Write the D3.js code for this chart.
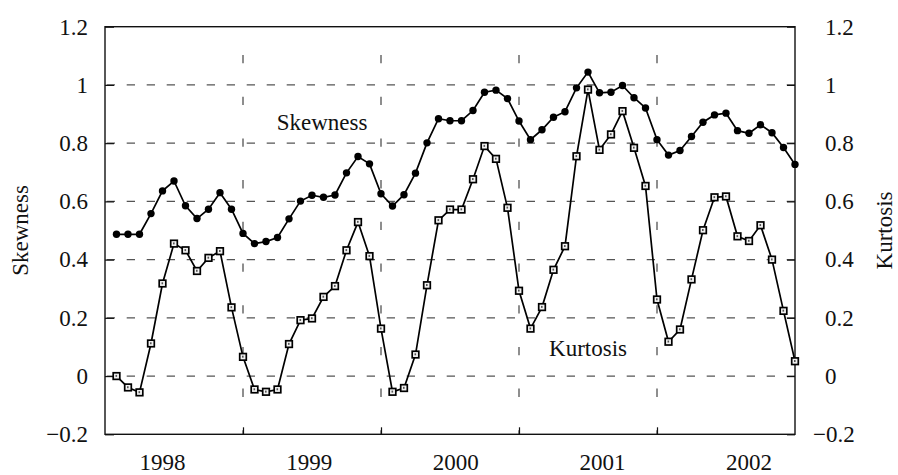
<!DOCTYPE html>
<html>
<head>
<meta charset="utf-8">
<script src="https://cdn.jsdelivr.net/npm/d3@7"></script>
<style>
  body { margin: 0; background: #fff; }
  svg { display: block; }
  text { font-family: "Liberation Serif", "Times New Roman", serif; fill: #111; }
</style>
</head>
<body>
<script>
// monthly values, Jan 1998 .. Dec 2002
var skewness = [
  0.487, 0.487, 0.487, 0.558, 0.636, 0.670, 0.585, 0.541, 0.573, 0.630, 0.573, 0.490,
  0.455, 0.462, 0.476, 0.540, 0.601, 0.621, 0.614, 0.622, 0.698, 0.754, 0.729, 0.626,
  0.584, 0.623, 0.697, 0.801, 0.884, 0.877, 0.877, 0.912, 0.975, 0.982, 0.953, 0.876,
  0.812, 0.846, 0.889, 0.908, 0.990, 1.044, 0.973, 0.975, 0.998, 0.956, 0.921, 0.812,
  0.759, 0.775, 0.823, 0.872, 0.897, 0.903, 0.843, 0.834, 0.863, 0.836, 0.785, 0.727
];
var kurtosis = [
  0.000, -0.039, -0.056, 0.112, 0.318, 0.455, 0.432, 0.361, 0.406, 0.429, 0.236, 0.066,
  -0.046, -0.054, -0.046, 0.110, 0.192, 0.198, 0.272, 0.309, 0.432, 0.529, 0.412, 0.163,
  -0.054, -0.041, 0.074, 0.312, 0.535, 0.572, 0.572, 0.676, 0.790, 0.746, 0.578, 0.293,
  0.163, 0.237, 0.365, 0.446, 0.755, 0.984, 0.777, 0.830, 0.910, 0.784, 0.653, 0.263,
  0.118, 0.160, 0.332, 0.501, 0.614, 0.617, 0.480, 0.464, 0.518, 0.400, 0.224, 0.051
];
var years = ["1998", "1999", "2000", "2001", "2002"];
var yTicks = [-0.2, 0, 0.2, 0.4, 0.6, 0.8, 1, 1.2];
var gridValues = [0, 0.2, 0.4, 0.6, 0.8, 1];

var width = 898, height = 475;
var plotLeft = 105, plotRight = 795, plotTop = 26.7, plotBottom = 434.3;

var svg = d3.select('body').append('svg')
  .attr('width', width)
  .attr('height', height);

// one month per step, x domain padded by one month on the left
var x = d3.scaleLinear().domain([-1, skewness.length - 1]).range([plotLeft, plotRight]);
var y = d3.scaleLinear().domain([-0.2, 1.2]).range([plotBottom, plotTop]);

var yearEnds = years.slice(0, -1).map((yr, k) => 12 * k + 11);
// year labels are spread evenly, a bit wider than the year spans
var labelPos = d3.scaleLinear().domain([0, years.length - 1]).range([x(4), x(55)]);

// horizontal dashed grid
svg.append('g').selectAll('line')
  .data(gridValues)
  .join('line')
  .attr('x1', plotLeft).attr('x2', plotRight)
  .attr('y1', d => y(d)).attr('y2', d => y(d))
  .attr('stroke', '#555')
  .attr('stroke-width', 1.2)
  .attr('stroke-dasharray', '8.3 11.7')
  .attr('stroke-dashoffset', -1.7);

// vertical dashed year separators
svg.append('g').selectAll('line')
  .data(yearEnds)
  .join('line')
  .attr('x1', d => x(d)).attr('x2', d => x(d))
  .attr('y1', plotTop).attr('y2', plotBottom)
  .attr('stroke', '#444')
  .attr('stroke-width', 1.2)
  .attr('stroke-dasharray', '8.3 33.4')
  .attr('stroke-dashoffset', 13.4);

// frame
svg.append('rect')
  .attr('x', plotLeft).attr('y', plotTop)
  .attr('width', plotRight - plotLeft).attr('height', plotBottom - plotTop)
  .attr('fill', 'none')
  .attr('stroke', '#111')
  .attr('stroke-width', 1.4);

var fmt = d3.format('~g');

var yLeft = svg.append('g')
  .attr('transform', 'translate(' + plotLeft + ',0)')
  .call(d3.axisLeft(y).tickValues(yTicks).tickFormat(fmt).tickSize(-9).tickPadding(17));
var yRight = svg.append('g')
  .attr('transform', 'translate(' + plotRight + ',0)')
  .call(d3.axisRight(y).tickValues(yTicks).tickFormat(fmt).tickSize(-8).tickPadding(30));
yRight.selectAll('text').attr('dx', d => d < 0 ? -12 : 0);

var xAxis = svg.append('g')
  .attr('transform', 'translate(0,' + plotBottom + ')')
  .call(d3.axisBottom(x).tickValues(yearEnds).tickFormat('').tickSize(-7));

[yLeft, yRight, xAxis].forEach(function (g) {
  g.select('.domain').remove();
  g.selectAll('line').attr('stroke', '#111').attr('stroke-width', 1.2);
  g.selectAll('text')
    .style('font-family', '"Liberation Serif", "Times New Roman", serif')
    .style('font-size', '23px')
    .attr('fill', '#111');
});

svg.append('g').selectAll('text')
  .data(years)
  .join('text')
  .attr('x', (d, k) => labelPos(k))
  .attr('y', 470)
  .attr('text-anchor', 'middle')
  .style('font-size', '23px')
  .text(d => d);

// axis titles
svg.append('text')
  .attr('transform', 'translate(28,' + ((plotTop + plotBottom) / 2) + ') rotate(-90)')
  .attr('text-anchor', 'middle')
  .style('font-size', '23px')
  .text('Skewness');
svg.append('text')
  .attr('transform', 'translate(892,' + ((plotTop + plotBottom) / 2) + ') rotate(-90)')
  .attr('text-anchor', 'middle')
  .style('font-size', '23px')
  .text('Kurtosis');

// series lines
var line = d3.line().x((d, i) => x(i)).y(d => y(d));

svg.append('path')
  .datum(kurtosis)
  .attr('d', line)
  .attr('fill', 'none')
  .attr('stroke', '#000')
  .attr('stroke-width', 1.7);

svg.append('path')
  .datum(skewness)
  .attr('d', line)
  .attr('fill', 'none')
  .attr('stroke', '#000')
  .attr('stroke-width', 1.7);

// kurtosis markers: small open squares
var sq = svg.append('g').selectAll('g')
  .data(kurtosis)
  .join('g')
  .attr('transform', (d, i) => 'translate(' + x(i) + ',' + y(d) + ')');
sq.append('rect')
  .attr('x', -3.3).attr('y', -3.3)
  .attr('width', 6.6).attr('height', 6.6)
  .attr('fill', '#f2f2f2')
  .attr('stroke', '#000')
  .attr('stroke-width', 1.7);
sq.append('rect')
  .attr('x', -1).attr('y', -1.2)
  .attr('width', 1.6).attr('height', 2)
  .attr('fill', '#555');

// skewness markers: filled dots
svg.append('g').selectAll('circle')
  .data(skewness)
  .join('circle')
  .attr('cx', (d, i) => x(i))
  .attr('cy', d => y(d))
  .attr('r', 3.7)
  .attr('fill', '#000');

// series labels inside the plot
svg.append('text')
  .attr('x', 322).attr('y', 130)
  .attr('text-anchor', 'middle')
  .style('font-size', '23px')
  .text('Skewness');
svg.append('text')
  .attr('x', 588).attr('y', 356)
  .attr('text-anchor', 'middle')
  .style('font-size', '23px')
  .text('Kurtosis');
</script>
</body>
</html>
